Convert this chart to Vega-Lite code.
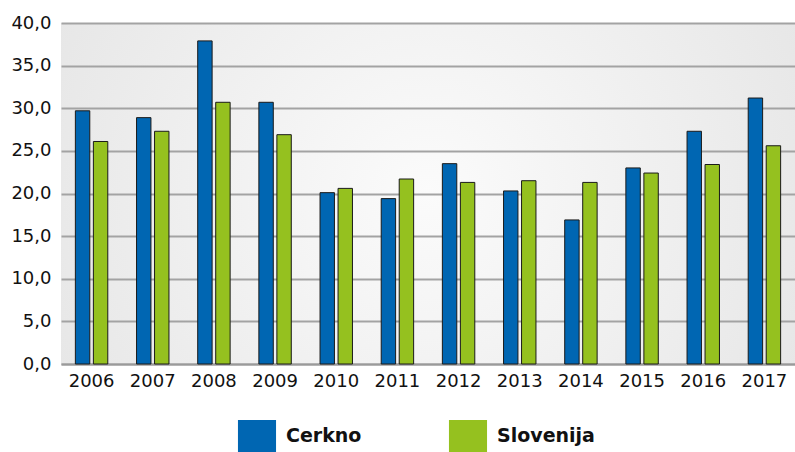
{
  "$schema": "https://vega.github.io/schema/vega-lite/v6.json",
  "autosize": "none",
  "width": 734,
  "height": 341,
  "padding": {"left": 61, "top": 23, "right": 0, "bottom": 88},
  "background": "white",
  "config": {
    "font": "DejaVu Sans",
    "view": {
      "stroke": null,
      "fill": {"gradient": "radial", "x1": 0.5, "y1": 0.5, "x2": 0.5, "y2": 0.5, "r1": 0, "r2": 0.75,
        "stops": [{"offset": 0, "color": "#fbfbfb"}, {"offset": 1, "color": "#e0e0e0"}]}
    }
  },
  "data": {
    "values": [
      {"year": "2006", "series": "Cerkno", "value": 29.7},
      {"year": "2006", "series": "Slovenija", "value": 26.1},
      {"year": "2007", "series": "Cerkno", "value": 28.9},
      {"year": "2007", "series": "Slovenija", "value": 27.3},
      {"year": "2008", "series": "Cerkno", "value": 37.9},
      {"year": "2008", "series": "Slovenija", "value": 30.7},
      {"year": "2009", "series": "Cerkno", "value": 30.7},
      {"year": "2009", "series": "Slovenija", "value": 26.9},
      {"year": "2010", "series": "Cerkno", "value": 20.1},
      {"year": "2010", "series": "Slovenija", "value": 20.6},
      {"year": "2011", "series": "Cerkno", "value": 19.4},
      {"year": "2011", "series": "Slovenija", "value": 21.7},
      {"year": "2012", "series": "Cerkno", "value": 23.5},
      {"year": "2012", "series": "Slovenija", "value": 21.3},
      {"year": "2013", "series": "Cerkno", "value": 20.3},
      {"year": "2013", "series": "Slovenija", "value": 21.5},
      {"year": "2014", "series": "Cerkno", "value": 16.9},
      {"year": "2014", "series": "Slovenija", "value": 21.3},
      {"year": "2015", "series": "Cerkno", "value": 23.0},
      {"year": "2015", "series": "Slovenija", "value": 22.4},
      {"year": "2016", "series": "Cerkno", "value": 27.3},
      {"year": "2016", "series": "Slovenija", "value": 23.4},
      {"year": "2017", "series": "Cerkno", "value": 31.2},
      {"year": "2017", "series": "Slovenija", "value": 25.6}
    ]
  },
  "mark": {"type": "bar", "stroke": "#1a1a1a", "strokeWidth": 1},
  "encoding": {
    "x": {
      "field": "year", "type": "nominal",
      "scale": {"paddingInner": 0.47, "paddingOuter": 0.235},
      "axis": {"title": null, "labelAngle": 0, "labelFontSize": 18, "labelColor": "#111", "ticks": false,
        "domainColor": "#9a9a9a", "domainWidth": 2, "labelPadding": 8}
    },
    "xOffset": {"field": "series", "type": "nominal", "scale": {"paddingInner": 0.2, "paddingOuter": 0}},
    "y": {
      "field": "value", "type": "quantitative",
      "scale": {"domain": [0, 40], "nice": false},
      "axis": {"title": null, "values": [0, 5, 10, 15, 20, 25, 30, 35, 40],
        "labelExpr": "replace(format(datum.value, '.1f'), '.', ',')",
        "labelFontSize": 18, "labelColor": "#111", "labelPadding": 10, "labelOverlap": false,
        "domain": false, "ticks": false, "gridColor": "#a3a3a3", "gridWidth": 2}
    },
    "color": {
      "field": "series", "type": "nominal",
      "scale": {"domain": ["Cerkno", "Slovenija"], "range": ["#0066b2", "#95c11f"]},
      "legend": {
        "title": null, "orient": "none", "legendX": 180, "legendY": 397, "padding": 0,
        "direction": "horizontal", "columns": 2,
        "symbolType": "M-1.19,-1H1.19V1H-1.19Z", "symbolSize": 1024, "symbolStrokeWidth": 0,
        "labelFontSize": 19, "labelFontWeight": "bold", "labelColor": "#111",
        "labelOffset": 13, "columnPadding": 86
      }
    }
  }
}
